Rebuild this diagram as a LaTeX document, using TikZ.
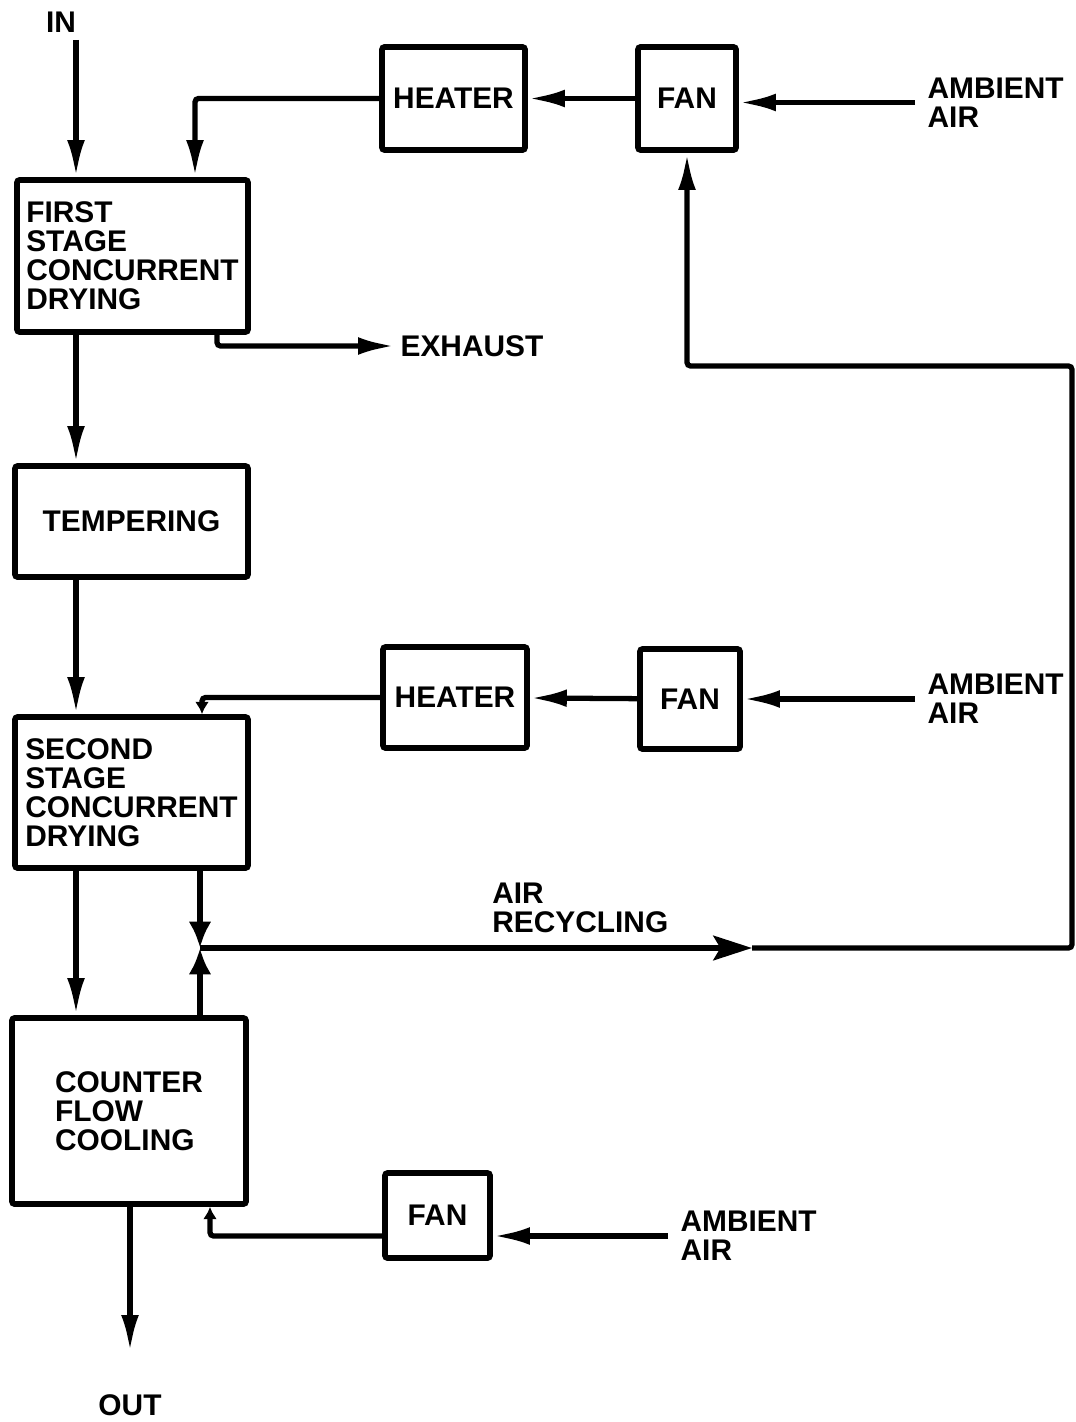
\documentclass[tikz,border=0pt]{standalone}
\usepackage{fontspec}
\setmainfont{Liberation Sans}
\usetikzlibrary{arrows.meta,positioning}
\tikzset{
  unit box/.style={draw,line width=3.3pt,rounded corners=1.5pt,align=left,inner sep=0pt,
    font=\fontsize{17}{16.5}\selectfont\bfseries},
  label text/.style={align=left,inner sep=0pt,font=\fontsize{17}{16.5}\selectfont\bfseries},
  flow arrow/.style={-{Latex[length=21pt,width=10pt]},line width=3pt,rounded corners=2pt},
  small arrow/.style={-{Latex[length=7pt,width=8pt]},line width=3pt,rounded corners=2pt},
  join arrow/.style={-{Latex[length=15pt,width=13pt]},line width=3pt},
  mid arrow/.style={-{Stealth[length=22pt,width=14pt,inset=4pt]},line width=3pt}
}

\begin{document}
\begin{tikzpicture}[x=0.02cm,y=-0.02cm]
  \useasboundingbox (0,0) rectangle (1075,1422);
  % drying line
  \node[unit box,minimum width=4.62cm,minimum height=3.04cm] (stage1) at (132.5,256) {FIRST\\STAGE\\CONCURRENT\\DRYING};
  \node[unit box,minimum width=4.66cm,minimum height=2.22cm] (temper) at (131.5,521.5) {TEMPERING};
  \node[unit box,minimum width=4.66cm,minimum height=3.02cm] (stage2) at (131.5,792.5) {SECOND\\STAGE\\CONCURRENT\\DRYING};
  \node[unit box,minimum width=4.68cm,minimum height=3.72cm] (cooler) at (129,1111) {COUNTER\\FLOW\\COOLING};
  % air units
  \node[unit box,minimum width=2.86cm,minimum height=2.06cm] (heat1) at (453.5,98.5) {HEATER};
  \node[unit box,minimum width=1.96cm,minimum height=2.06cm] (fan1) at (687,98.5) {FAN};
  \node[unit box,minimum width=2.88cm,minimum height=2.02cm] (heat2) at (455,697.5) {HEATER};
  \node[unit box,minimum width=2.0cm,minimum height=2.0cm] (fan2) at (690,699) {FAN};
  \node[unit box,minimum width=2.1cm,minimum height=1.7cm] (fan3) at (437.5,1215.5) {FAN};
  % labels
  \node[label text] (in) at (61,22) {IN};
  \node[label text] (out) at (130,1405) {OUT};
  \node[label text,inner xsep=7pt,anchor=west] (amb1) at (915,102.5) {AMBIENT\\AIR};
  \node[label text,inner xsep=7pt,anchor=west] (amb2) at (915,699) {AMBIENT\\AIR};
  \node[label text,inner xsep=7pt,anchor=west] (amb3) at (668,1236) {AMBIENT\\AIR};
  \node[label text,inner xsep=3pt,anchor=west] (exh) at (395,346) {EXHAUST};
  \node[label text,anchor=west] (recy) at (492,908) {AIR\\RECYCLING};
  % line positions
  \coordinate (feed) at (76,0);
  \coordinate (infeed) at (76,40);
  \coordinate (outlet) at (130,1352);
  \coordinate (hot1) at (195,0);
  \coordinate (vent) at (217,0);
  \coordinate (hot2) at (202,0);
  \coordinate (cool) at (210,0);
  \coordinate (jn) at (200,948);
  \coordinate (mid) at (752,948);
  \coordinate (rc) at (1072,366);
  % grain flow
  \draw[flow arrow] (infeed) -- (stage1.north -| feed);
  \draw[flow arrow] (stage1.south -| feed) -- (temper.north -| feed);
  \draw[flow arrow] (temper.south -| feed) -- (stage2.north -| feed);
  \draw[flow arrow] (stage2.south -| feed) -- (cooler.north -| feed);
  \draw[flow arrow] (cooler.south -| outlet) -- (outlet);
  % first stage air
  \draw[flow arrow] (amb1.west) -- (amb1.west -| fan1.east);
  \draw[flow arrow] (fan1) -- (heat1);
  \draw[flow arrow] (heat1.west) -| (stage1.north -| hot1);
  \draw[flow arrow] (stage1.south -| vent) |- (exh.west);
  % second stage air
  \draw[flow arrow] (amb2.west) -- (amb2.west -| fan2.east);
  \draw[flow arrow] (fan2) -- (heat2);
  \draw[small arrow] (heat2.west) -| (stage2.north -| hot2);
  % cooling air
  \draw[flow arrow] (amb3.west) -- (amb3.west -| fan3.east);
  \draw[small arrow] (fan3.west |- amb3.west) -| (cooler.south -| cool);
  % recycling
  \draw[join arrow] (stage2.south -| jn) -- (jn);
  \draw[join arrow] (cooler.north -| jn) -- (jn);
  \draw[mid arrow] (jn) -- (mid);
  \draw[flow arrow] (mid) -| (rc) -| (fan1.south);
\end{tikzpicture}
\end{document}
